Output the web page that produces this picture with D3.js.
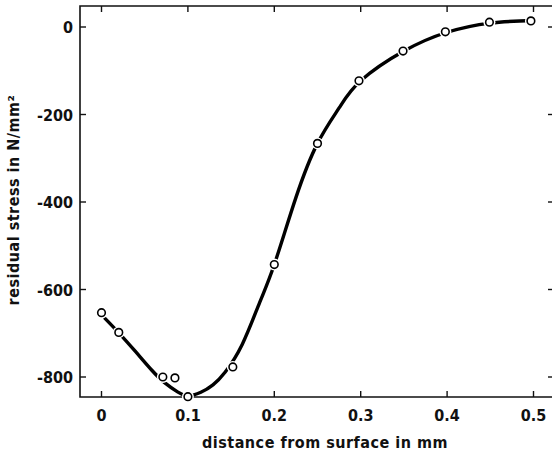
<!DOCTYPE html>
<html>
<head>
<meta charset="utf-8">
<script src="https://cdn.jsdelivr.net/npm/d3@7"></script>
<style>
  body { margin: 0; background: #fff; }
  text { font-family: "DejaVu Sans Condensed", "DejaVu Sans", sans-serif; font-weight: bold; fill: #111; }
</style>
</head>
<body>
<div id="chart"></div>
<script>
// measured points
const depth  = [0, 0.02, 0.071, 0.085, 0.1, 0.152, 0.2, 0.25, 0.298, 0.349, 0.398, 0.449, 0.497];
const stress = [-653, -698, -800, -802, -845, -777, -543, -266, -123, -55, -11, 11, 14];

// hand drawn fitted curve
const curveX = [0.004, 0.02, 0.039, 0.058, 0.073, 0.088, 0.1, 0.115, 0.129, 0.143, 0.163, 0.183, 0.2, 0.225, 0.25, 0.275, 0.3, 0.35, 0.4, 0.45, 0.5];
const curveY = [-666, -699, -741, -784, -813, -834, -843, -835, -818, -789, -725, -630, -543, -390, -266, -185, -123, -55, -12, 9, 15];

const xTicks = [0, 0.1, 0.2, 0.3, 0.4, 0.5];
const yTicks = [0, -200, -400, -600, -800];

const width = 552, height = 455;
const frameL = 80, frameR = 552, frameT = 6, frameB = 397;

const svg = d3.select("#chart").append("svg")
    .attr("width", width)
    .attr("height", height);

const x = d3.scaleLinear()
    .domain([0, 0.5])
    .range([101.5, 533.5]);

const y = d3.scaleLinear()
    .domain([0, -800])
    .range([27, 377]);

// frame
svg.append("path")
    .attr("d", `M${frameR},${frameT}H${frameL}V${frameB}H${frameR}`)
    .attr("fill", "none")
    .attr("stroke", "#111")
    .attr("stroke-width", 1.6);

// ticks, all pointing inward
svg.selectAll(".tick-b").data(xTicks).enter().append("line")
    .attr("x1", d => x(d)).attr("x2", d => x(d))
    .attr("y1", frameB).attr("y2", frameB - 6)
    .attr("stroke", "#111").attr("stroke-width", 1.4);

svg.selectAll(".tick-t").data(xTicks).enter().append("line")
    .attr("x1", d => x(d)).attr("x2", d => x(d))
    .attr("y1", frameT).attr("y2", frameT + 6)
    .attr("stroke", "#111").attr("stroke-width", 1.4);

svg.selectAll(".tick-l").data(yTicks).enter().append("line")
    .attr("x1", frameL).attr("x2", frameL + 6)
    .attr("y1", d => y(d)).attr("y2", d => y(d))
    .attr("stroke", "#111").attr("stroke-width", 1.4);

svg.selectAll(".tick-r").data(yTicks).enter().append("line")
    .attr("x1", frameR - 4).attr("x2", frameR)
    .attr("y1", d => y(d)).attr("y2", d => y(d))
    .attr("stroke", "#111").attr("stroke-width", 1.4);

// tick labels
svg.selectAll(".xlab").data(xTicks).enter().append("text")
    .attr("x", d => x(d))
    .attr("y", 421)
    .attr("text-anchor", "middle")
    .attr("font-size", 16)
    .text(d => d === 0 ? "0" : d3.format(".1f")(d));

svg.selectAll(".ylab").data(yTicks).enter().append("text")
    .attr("x", 73)
    .attr("y", d => y(d) + 6)
    .attr("text-anchor", "end")
    .attr("font-size", 16)
    .text(d => d === 0 ? "0" : "-" + Math.abs(d));

// axis titles
svg.append("text")
    .attr("x", 325)
    .attr("y", 448)
    .attr("text-anchor", "middle")
    .attr("font-size", 16)
    .attr("letter-spacing", 0.5)
    .text("distance from surface in mm");

svg.append("text")
    .attr("transform", "translate(19,200) rotate(-90)")
    .attr("text-anchor", "middle")
    .attr("font-size", 16)
    .attr("letter-spacing", 0.5)
    .text("residual stress in  N/mm²");

// curve
const line = d3.line()
    .x(d => x(d[0]))
    .y(d => y(d[1]))
    .curve(d3.curveNatural);

svg.append("path")
    .datum(d3.zip(curveX, curveY))
    .attr("d", line)
    .attr("fill", "none")
    .attr("stroke", "#000")
    .attr("stroke-width", 3.4)
    .attr("stroke-linecap", "round");

const pts = d3.zip(depth, stress);

// white gaps round the markers
svg.selectAll(".halo").data(pts).enter().append("circle")
    .attr("cx", d => x(d[0]))
    .attr("cy", d => y(d[1]))
    .attr("r", 6)
    .attr("fill", "#fff");

svg.selectAll(".pt").data(pts).enter().append("circle")
    .attr("cx", d => x(d[0]))
    .attr("cy", d => y(d[1]))
    .attr("r", 3.8)
    .attr("fill", "#fff")
    .attr("stroke", "#000")
    .attr("stroke-width", 1.6);
</script>
</body>
</html>
